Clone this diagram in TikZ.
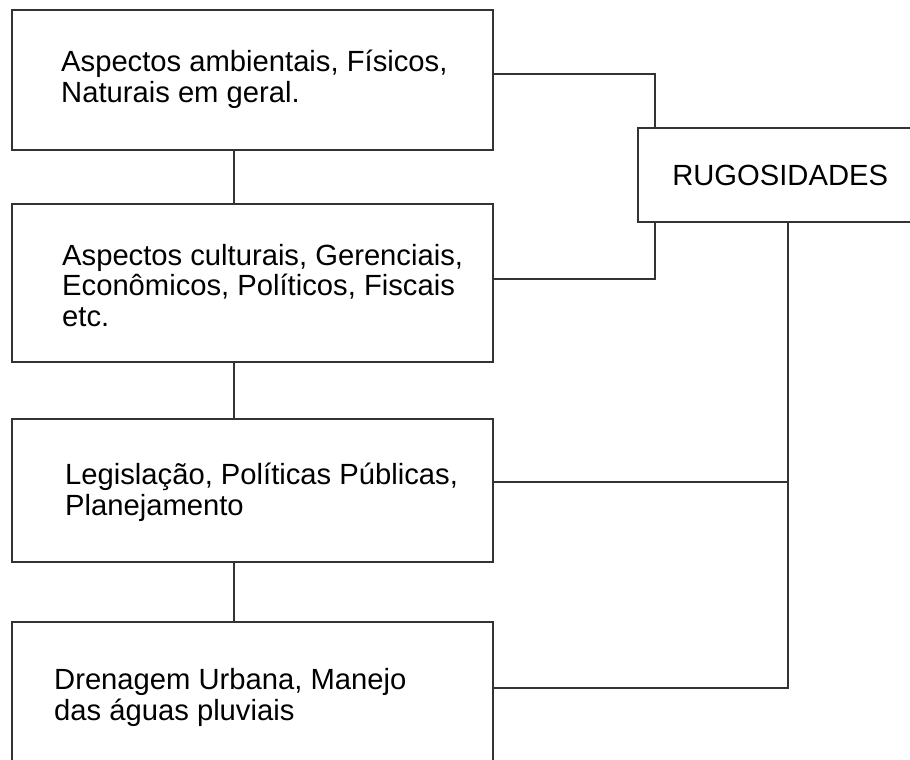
\documentclass[tikz,border=0pt]{standalone}
\usepackage{fontspec}
\setmainfont{Liberation Sans}
\tikzset{
  caixa/.style={draw=black!80, line width=2pt, minimum width=481pt, inner sep=0pt},
  texto/.style={inner sep=0pt, anchor=base west, align=left, font=\fontsize{29.2}{30.5}\selectfont},
  liga/.style={draw=black!80, line width=2pt}
}

\begin{document}
\begin{tikzpicture}[x=1pt,y=-1pt]
\path[use as bounding box] (0,0) rectangle (910,760);
\clip (0,0) rectangle (910,760);
% Caixas da coluna
\node[caixa, minimum height=140.3pt] (b1) at (252.1,80.15) {};
\node[caixa, minimum height=157.7pt] (b2) at (252.1,282.85) {};
\node[caixa, minimum height=142.4pt] (b3) at (252.1,490.5) {};
\node[caixa, minimum height=148.3pt] (b4) at (252.1,695.85) {};
% Textos (base = ultima linha)
\node[texto] (t1) at (61,102) {Aspectos ambientais, Físicos,\\Naturais em geral.};
\node[texto] (t2) at (62,326) {Aspectos culturais, Gerenciais,\\Econômicos, Políticos, Fiscais\\etc.};
\node[texto] (t3) at (65,515) {Legislação, Políticas Públicas,\\Planejamento};
\node[texto] (t4) at (54,720) {Drenagem Urbana, Manejo\\das águas pluviais};
% Rugosidades
\node[caixa, minimum width=283.7pt, minimum height=94pt, font=\fontsize{29.2}{30.5}\selectfont] (rug) at (780.15,175.3) {RUGOSIDADES};
% Ligacoes verticais
\foreach \a/\b in {b1/b2,b2/b3,b3/b4} {
  \draw[liga] ([xshift=-18.6pt]\a.south) -- ([xshift=-18.6pt]\b.north);
}
% Ligacoes com rugosidades
\draw[liga] ([yshift=5.85pt]b1.east) -| ([xshift=17.4pt]rug.north west);
\draw[liga] ([yshift=3.55pt]b2.east) -| ([xshift=17.4pt]rug.south west);
\coordinate (tronco) at ([xshift=8.15pt]rug.south);
\draw[liga] (tronco) |- ([yshift=7.55pt]b4.east);
\coordinate (ramo3) at ([yshift=8.8pt]b3.east);
\draw[liga] (ramo3) -- (ramo3 -| tronco);
\end{tikzpicture}
\end{document}
